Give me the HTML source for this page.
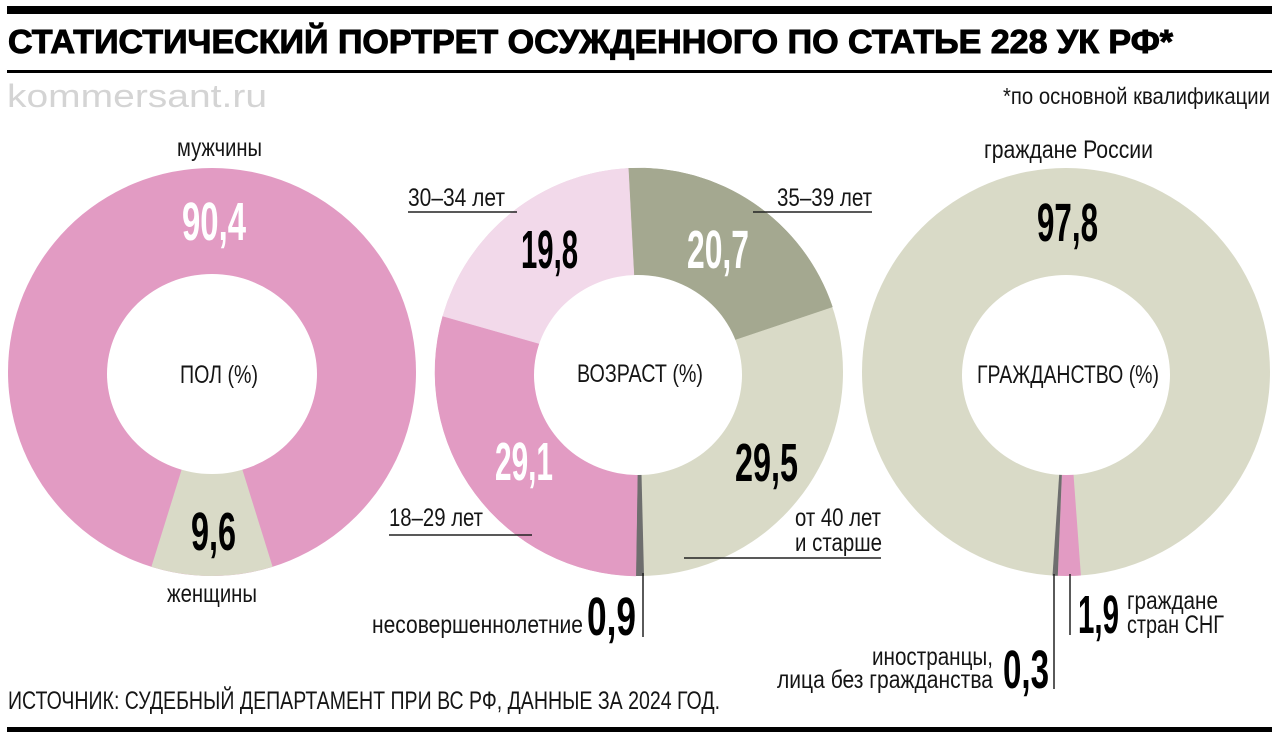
<!DOCTYPE html>
<html>
<head>
<meta charset="utf-8">
<style>
html,body{margin:0;padding:0;background:#fff;}
svg{display:block;}
text{font-family:"Liberation Sans","DejaVu Sans",sans-serif;}
.lb{font-size:25px;fill:#151515;}
.nb{font-size:54px;font-weight:bold;}
</style>
</head>
<body>
<svg width="1280" height="739" viewBox="0 0 1280 739" xmlns="http://www.w3.org/2000/svg">
<rect x="0" y="0" width="1280" height="739" fill="#fff"/>
<!-- header -->
<rect x="7" y="6" width="1265" height="8" fill="#000"/>
<text x="8" y="53" font-size="33" font-weight="bold" fill="#000" stroke="#000" stroke-width="1" textLength="1165" lengthAdjust="spacingAndGlyphs">СТАТИСТИЧЕСКИЙ ПОРТРЕТ ОСУЖДЕННОГО ПО СТАТЬЕ 228 УК РФ*</text>
<rect x="7" y="70" width="1265" height="3" fill="#000"/>
<text x="7" y="107" font-size="32" fill="#d4d4d4" textLength="260" lengthAdjust="spacingAndGlyphs">kommersant.ru</text>
<text x="1003" y="104" font-size="23" fill="#151515" textLength="267" lengthAdjust="spacingAndGlyphs">*по основной квалификации</text>

<!-- chart 1 -->
<circle cx="212" cy="372" r="204" fill="#e29bc3"/>
<path d="M212,372 L272.6,566.8 A204,204 0 0,1 151.4,566.8 Z" fill="#d9dac7"/>
<ellipse cx="212" cy="374" rx="105" ry="100" fill="#fff"/>
<text class="lb" x="177" y="156" textLength="85" lengthAdjust="spacingAndGlyphs">мужчины</text>
<text class="nb" x="182" y="240" fill="#fff" textLength="64" lengthAdjust="spacingAndGlyphs">90,4</text>
<text class="lb" x="180" y="383" textLength="78" lengthAdjust="spacingAndGlyphs">ПОЛ (%)</text>
<text class="nb" x="191" y="550" fill="#000" textLength="45" lengthAdjust="spacingAndGlyphs">9,6</text>
<text class="lb" x="167" y="602" textLength="90" lengthAdjust="spacingAndGlyphs">женщины</text>

<!-- chart 2 -->
<circle cx="639" cy="372" r="204" fill="#d9dac7"/>
<path d="M639,372 L628.3,168.3 A204,204 0 0,1 832.4,306.9 Z" fill="#a4a890" stroke="#a4a890" stroke-width="0.5"/>
<path d="M639,372 L644.0,575.9 A204,204 0 0,1 635.8,576.0 Z" fill="#6e6e6e"/>
<path d="M639,372 L635.8,576.0 A204,204 0 0,1 442.8,316.1 Z" fill="#e29bc3" stroke="#e29bc3" stroke-width="0.5"/>
<path d="M639,372 L442.8,316.1 A204,204 0 0,1 628.3,168.3 Z" fill="#f2d9ea" stroke="#f2d9ea" stroke-width="0.5"/>
<ellipse cx="638" cy="375" rx="104" ry="100" fill="#fff"/>
<text class="lb" x="408" y="206" textLength="97" lengthAdjust="spacingAndGlyphs">30–34 лет</text>
<line x1="408" y1="212" x2="517" y2="212" stroke="#222" stroke-width="1.5"/>
<text class="lb" x="777" y="206" textLength="95" lengthAdjust="spacingAndGlyphs">35–39 лет</text>
<line x1="753" y1="212" x2="872" y2="212" stroke="#222" stroke-width="1.5"/>
<text class="nb" x="521" y="268" fill="#000" textLength="57" lengthAdjust="spacingAndGlyphs">19,8</text>
<text class="nb" x="687" y="268" fill="#fff" textLength="62" lengthAdjust="spacingAndGlyphs">20,7</text>
<text class="lb" x="577" y="382" textLength="126" lengthAdjust="spacingAndGlyphs">ВОЗРАСТ (%)</text>
<text class="nb" x="495" y="480" fill="#fff" textLength="58" lengthAdjust="spacingAndGlyphs">29,1</text>
<text class="nb" x="735" y="481" fill="#000" textLength="63" lengthAdjust="spacingAndGlyphs">29,5</text>
<text class="lb" x="389" y="526" textLength="94" lengthAdjust="spacingAndGlyphs">18–29 лет</text>
<line x1="389" y1="535" x2="532" y2="535" stroke="#222" stroke-width="1.5"/>
<text class="lb" x="795" y="526" textLength="86" lengthAdjust="spacingAndGlyphs">от 40 лет</text>
<text class="lb" x="795" y="551" textLength="87" lengthAdjust="spacingAndGlyphs">и старше</text>
<line x1="684" y1="558" x2="881" y2="558" stroke="#222" stroke-width="1.5"/>
<line x1="643" y1="573" x2="643" y2="637" stroke="#222" stroke-width="1.5"/>
<text class="lb" x="372" y="633" textLength="211" lengthAdjust="spacingAndGlyphs">несовершеннолетние</text>
<text class="nb" x="587" y="635" fill="#000" textLength="49" lengthAdjust="spacingAndGlyphs">0,9</text>

<!-- chart 3 -->
<circle cx="1066" cy="372" r="204" fill="#d9dac7"/>
<path d="M1066,372 L1080.9,575.5 A204,204 0 0,1 1057.8,575.8 Z" fill="#e29bc3"/>
<path d="M1066,372 L1057.8,575.8 A204,204 0 0,1 1052.5,575.6 Z" fill="#6e6e6e"/>
<ellipse cx="1066" cy="375" rx="104" ry="100" fill="#fff"/>
<text class="lb" x="984" y="158" textLength="169" lengthAdjust="spacingAndGlyphs">граждане России</text>
<text class="nb" x="1037" y="241" fill="#000" textLength="61" lengthAdjust="spacingAndGlyphs">97,8</text>
<text class="lb" x="977" y="383" textLength="182" lengthAdjust="spacingAndGlyphs">ГРАЖДАНСТВО (%)</text>
<line x1="1054" y1="574" x2="1054" y2="689" stroke="#222" stroke-width="1.5"/>
<line x1="1070" y1="574" x2="1070" y2="635" stroke="#222" stroke-width="1.5"/>
<text class="nb" x="1078" y="633" fill="#000" textLength="41" lengthAdjust="spacingAndGlyphs">1,9</text>
<text class="lb" x="1127" y="609" textLength="91" lengthAdjust="spacingAndGlyphs">граждане</text>
<text class="lb" x="1127" y="633" textLength="97" lengthAdjust="spacingAndGlyphs">стран СНГ</text>
<text class="lb" x="872" y="665" textLength="121" lengthAdjust="spacingAndGlyphs">иностранцы,</text>
<text class="lb" x="777" y="688" textLength="216" lengthAdjust="spacingAndGlyphs">лица без гражданства</text>
<text class="nb" x="1003" y="688" fill="#000" textLength="46" lengthAdjust="spacingAndGlyphs">0,3</text>

<!-- footer -->
<text class="lb" x="8" y="709" textLength="712" lengthAdjust="spacingAndGlyphs">ИСТОЧНИК: СУДЕБНЫЙ ДЕПАРТАМЕНТ ПРИ ВС РФ, ДАННЫЕ ЗА 2024 ГОД.</text>
<rect x="7" y="727" width="1265" height="5" fill="#000"/>
</svg>
</body>
</html>
